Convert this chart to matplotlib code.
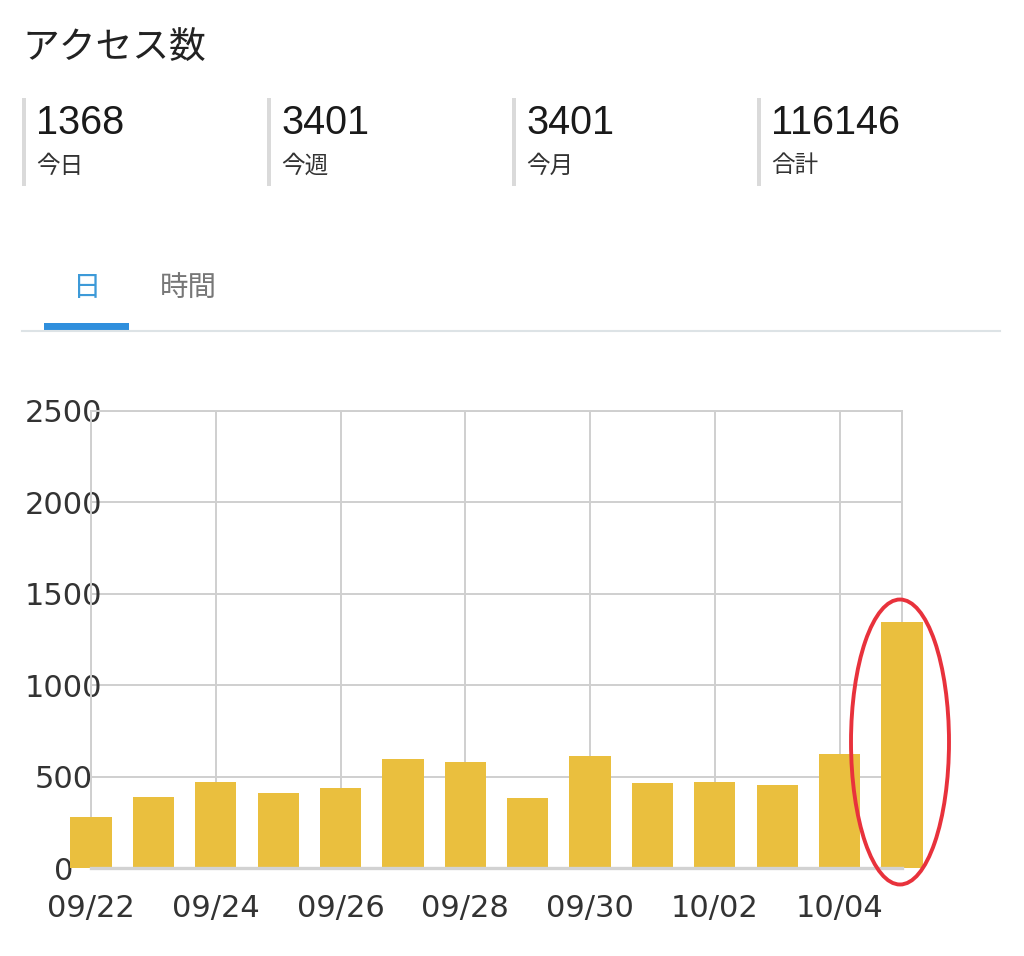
import matplotlib
matplotlib.use("Agg")
import matplotlib.pyplot as plt
from matplotlib.patches import Rectangle, Ellipse
from matplotlib.lines import Line2D

# data
dates = ["09/22", "09/23", "09/24", "09/25", "09/26", "09/27", "09/28",
         "09/29", "09/30", "10/01", "10/02", "10/03", "10/04", "10/05"]
visits = [277, 386, 472, 410, 435, 594, 579, 383, 612, 465, 473, 454, 623, 1348]

stat_values = ["1368", "3401", "3401", "116146"]
stat_labels = ["今日", "今週", "今月", "合計"]
title = "アクセス数"
tabs = ["日", "時間"]

W, H = 1024, 956
JP = ["Noto Sans CJK JP", "DejaVu Sans"]
NUM = ["Liberation Sans", "Noto Sans CJK JP"]
TICK = ["DejaVu Sans"]
BAR = "#EABF3E"
GRID = "#cfcfcf"


def px(x, y):
    # pixel coords (top-left origin) -> figure fraction
    return x / W, 1 - y / H


fig = plt.figure(figsize=(W / 100, H / 100), dpi=100)

# header
fig.text(*px(22, 47), title, family=JP, fontsize=26.5, color="#222222", va="center")

for i, (v, lab) in enumerate(zip(stat_values, stat_labels)):
    x0 = 22 + i * 245
    fig.add_artist(Rectangle(px(x0, 186), 4 / W, 88 / H, transform=fig.transFigure,
                             color="#dadada", lw=0))
    fig.text(*px(x0 + 14, 123), v, family=NUM, fontsize=28.5, color="#1a1a1a", va="center")
    fig.text(*px(x0 + 14, 166), lab, family=JP, fontsize=17, color="#333333", va="center")

# tabs
fig.text(*px(87, 288), tabs[0], family=JP, fontsize=20.5, color="#3d9ad8", va="center", ha="center")
fig.text(*px(188, 288), tabs[1], family=JP, fontsize=20.5, color="#777777", va="center", ha="center")
fig.add_artist(Line2D([22 / W, 1000 / W], [1 - 331 / H] * 2, transform=fig.transFigure,
                      color="#dde3e6", lw=1.5))
fig.add_artist(Rectangle(px(44, 330), 85 / W, 7 / H, transform=fig.transFigure,
                         color="#2f8fdd", lw=0))

# chart
ax = fig.add_axes([91 / W, 88 / H, 811 / W, 457 / H])
x = list(range(len(dates)))
ax.bar(x, visits, width=0.66, color=BAR, zorder=3, clip_on=False)

ax.set_xlim(0, len(dates) - 1)
ax.set_ylim(0, 2500)
ax.set_yticks(range(0, 2501, 500))
ax.set_xticks(x[::2])
ax.set_xticklabels(dates[::2])
ax.grid(True, color=GRID, lw=1.4, zorder=0)
for s in ["left", "right", "top"]:
    ax.spines[s].set_color(GRID)
    ax.spines[s].set_linewidth(1.4)
ax.spines["bottom"].set_color("#d2d2d2")
ax.spines["bottom"].set_linewidth(2.4)
ax.spines["bottom"].set_zorder(4)
ax.tick_params(length=0, labelsize=22, labelcolor="#333333")
ax.tick_params(axis="y", pad=19.5)
ax.tick_params(axis="x", pad=19)
for t in ax.get_yticklabels() + ax.get_xticklabels():
    t.set_family(TICK)
for t in ax.get_yticklabels():
    t.set_ha("center")

# red circle drawn around today's bar
fig.add_artist(Ellipse(px(900, 742), 98 / W, 285 / H, transform=fig.transFigure,
                       fill=False, ec="#e8323c", lw=2.8, zorder=10))

fig.savefig("out.png", dpi=100, facecolor="white")
